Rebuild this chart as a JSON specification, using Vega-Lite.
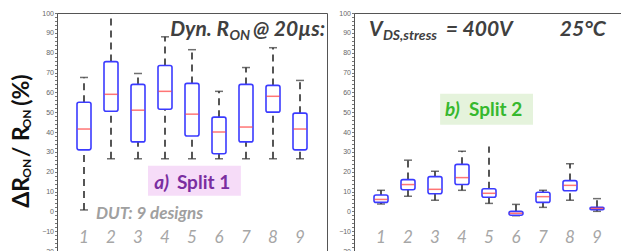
{
"$schema": "https://vega.github.io/schema/vega-lite/v6.json",
"padding": {"left": 10, "top": 8, "right": 0, "bottom": 0},
"spacing": 10,
"background": "white",
"config": {"view": {"stroke": "#555", "strokeWidth": 1}, "text": {"font": "Lato"}, "scale": {"continuousPadding": 0},
 "axisY": {"labelOverlap": false, "tickSize": 2.5, "labelFontSize": 7, "labelColor": "#666", "tickColor": "#777", "domainColor": "#555", "grid": false, "labelPadding": 1, "labelFont": "Liberation Sans"}},
"datasets": {
"s1": [
{"dut":1,"lo":0.7,"q1":31,"med":41.5,"q3":55,"hi":67.5},
{"dut":2,"lo":26.5,"q1":50.5,"med":59,"q3":75.5,"hi":103},
{"dut":3,"lo":26.5,"q1":35,"med":51,"q3":64,"hi":69.5},
{"dut":4,"lo":26.5,"q1":51.5,"med":60.5,"q3":73.5,"hi":88},
{"dut":5,"lo":26.5,"q1":38,"med":49,"q3":64.5,"hi":81.5},
{"dut":6,"lo":26.5,"q1":29,"med":40,"q3":47.5,"hi":60.5},
{"dut":7,"lo":26.5,"q1":35,"med":42.5,"q3":64,"hi":72.5},
{"dut":8,"lo":26.5,"q1":50,"med":58,"q3":63.5,"hi":82.5},
{"dut":9,"lo":26.5,"q1":31,"med":41.5,"q3":49.5,"hi":66}
],
"s2": [
{"dut":1,"lo":3.7,"q1":4.5,"med":6,"q3":8.2,"hi":10.6},
{"dut":2,"lo":7.6,"q1":10.9,"med":13.5,"q3":16,"hi":25.8},
{"dut":3,"lo":5.6,"q1":8.9,"med":11.1,"q3":17.5,"hi":20.2},
{"dut":4,"lo":10.6,"q1":13.5,"med":17,"q3":23.7,"hi":30.3},
{"dut":5,"lo":4,"q1":7.1,"med":9.1,"q3":11.4,"hi":32.7},
{"dut":6,"lo":-2.2,"q1":-2,"med":-1,"q3":0,"hi":3.5},
{"dut":7,"lo":2,"q1":4.5,"med":7.4,"q3":9.6,"hi":10.6},
{"dut":8,"lo":5.6,"q1":10.4,"med":13.1,"q3":15.5,"hi":24},
{"dut":9,"lo":0,"q1":0.8,"med":1.5,"q3":2,"hi":6.4}
]
},
"hconcat": [
{
"width": 270, "height": 238,
"data": {"name": "s1"},
"layer": [
{"data": {"values": [{}]}, "mark": {"type": "rect", "color": "#f6dcf8"},
 "encoding": {"x": {"datum": 3.37, "type": "quantitative", "scale": {"domain": [0, 10], "padding": 0, "nice": false, "zero": false}, "axis": null}, "x2": {"datum": 6.81},
  "y": {"datum": 7.8, "type": "quantitative", "scale": {"domain": [-20, 100], "padding": 0, "nice": false}, "axis": {"tickCount": 60, "title": null, "labelExpr": "datum.value % 10 === 0 ? datum.label : ''"}}, "y2": {"datum": 23}}},
{"mark": {"type": "rule", "color": "#444", "strokeWidth": 1.8, "strokeDash": [7, 5], "clip": true},
 "encoding": {"x": {"field": "dut", "type": "quantitative", "axis": null}, "y": {"field": "q3", "type": "quantitative", "axis": {"tickCount": 60, "title": null, "labelExpr": "datum.value % 10 === 0 ? datum.label : ''"}}, "y2": {"field": "hi"}}},
{"mark": {"type": "rule", "color": "#444", "strokeWidth": 1.8, "strokeDash": [7, 5]},
 "encoding": {"x": {"field": "dut", "type": "quantitative", "axis": null}, "y": {"field": "lo", "type": "quantitative", "axis": {"tickCount": 60, "title": null, "labelExpr": "datum.value % 10 === 0 ? datum.label : ''"}}, "y2": {"field": "q1"}}},
{"mark": {"type": "tick", "orient": "horizontal", "color": "#333", "size": 8, "thickness": 1.5, "clip": true},
 "encoding": {"x": {"field": "dut", "type": "quantitative", "axis": null}, "y": {"field": "hi", "type": "quantitative", "axis": {"tickCount": 60, "title": null, "labelExpr": "datum.value % 10 === 0 ? datum.label : ''"}}}},
{"mark": {"type": "tick", "orient": "horizontal", "color": "#333", "size": 8, "thickness": 1.5},
 "encoding": {"x": {"field": "dut", "type": "quantitative", "axis": null}, "y": {"field": "lo", "type": "quantitative", "axis": {"tickCount": 60, "title": null, "labelExpr": "datum.value % 10 === 0 ? datum.label : ''"}}}},
{"mark": {"type": "bar", "size": 14, "fill": "white", "stroke": "#3b3bff", "strokeWidth": 1.6, "cornerRadius": 2},
 "encoding": {"x": {"field": "dut", "type": "quantitative", "axis": null}, "y": {"field": "q1", "type": "quantitative", "axis": {"tickCount": 60, "title": null, "labelExpr": "datum.value % 10 === 0 ? datum.label : ''"}}, "y2": {"field": "q3"}}},
{"mark": {"type": "tick", "orient": "horizontal", "color": "#ff3b3b", "size": 13, "thickness": 1.5},
 "encoding": {"x": {"field": "dut", "type": "quantitative", "axis": null}, "y": {"field": "med", "type": "quantitative", "axis": {"tickCount": 60, "title": null, "labelExpr": "datum.value % 10 === 0 ? datum.label : ''"}}}},
{"mark": {"type": "text", "fontSize": 17, "fontStyle": "italic", "color": "#a6a6a6", "baseline": "middle"},
 "encoding": {"x": {"field": "dut", "type": "quantitative", "axis": null}, "y": {"datum": -13.5, "type": "quantitative", "axis": {"tickCount": 60, "title": null, "labelExpr": "datum.value % 10 === 0 ? datum.label : ''"}}, "text": {"field": "dut"}}},
{"data": {"values": [{}]}, "mark": {"type": "text", "text": "ΔR", "angle": 270, "align": "left", "baseline": "alphabetic", "fontSize": 23, "fontWeight": "bold", "color": "#111"},
 "encoding": {"x": {"datum": -1.04, "type": "quantitative", "axis": null}, "y": {"datum": 1.77, "type": "quantitative", "axis": {"tickCount": 60, "title": null, "labelExpr": "datum.value % 10 === 0 ? datum.label : ''"}}}},
{"data": {"values": [{}]}, "mark": {"type": "text", "text": "ON", "angle": 270, "align": "left", "baseline": "alphabetic", "fontSize": 12, "fontWeight": "bold", "color": "#111"},
 "encoding": {"x": {"datum": -0.96, "type": "quantitative", "axis": null}, "y": {"datum": 16.9, "type": "quantitative", "axis": {"tickCount": 60, "title": null, "labelExpr": "datum.value % 10 === 0 ? datum.label : ''"}}}},
{"data": {"values": [{}]}, "mark": {"type": "text", "text": "/ R", "angle": 270, "align": "left", "baseline": "alphabetic", "fontSize": 23, "fontWeight": "bold", "color": "#111"},
 "encoding": {"x": {"datum": -1.04, "type": "quantitative", "axis": null}, "y": {"datum": 27.3, "type": "quantitative", "axis": {"tickCount": 60, "title": null, "labelExpr": "datum.value % 10 === 0 ? datum.label : ''"}}}},
{"data": {"values": [{}]}, "mark": {"type": "text", "text": "ON", "angle": 270, "align": "left", "baseline": "alphabetic", "fontSize": 12, "fontWeight": "bold", "color": "#111"},
 "encoding": {"x": {"datum": -0.96, "type": "quantitative", "axis": null}, "y": {"datum": 41.8, "type": "quantitative", "axis": {"tickCount": 60, "title": null, "labelExpr": "datum.value % 10 === 0 ? datum.label : ''"}}}},
{"data": {"values": [{}]}, "mark": {"type": "text", "text": "(%)", "angle": 270, "align": "left", "baseline": "alphabetic", "fontSize": 23, "fontWeight": "bold", "color": "#111"},
 "encoding": {"x": {"datum": -1.04, "type": "quantitative", "axis": null}, "y": {"datum": 53.2, "type": "quantitative", "axis": {"tickCount": 60, "title": null, "labelExpr": "datum.value % 10 === 0 ? datum.label : ''"}}}},
{"data": {"values": [{}]}, "mark": {"type": "text", "text": "Dyn. R", "align": "right", "baseline": "alphabetic", "fontSize": 21, "fontWeight": "bold", "fontStyle": "italic", "color": "#404040"},
 "encoding": {"x": {"datum": 6.37, "type": "quantitative", "axis": null}, "y": {"datum": 88.5, "type": "quantitative", "axis": {"tickCount": 60, "title": null, "labelExpr": "datum.value % 10 === 0 ? datum.label : ''"}}}},
{"data": {"values": [{}]}, "mark": {"type": "text", "text": "ON", "align": "right", "baseline": "alphabetic", "fontSize": 14, "fontWeight": "bold", "fontStyle": "italic", "color": "#404040"},
 "encoding": {"x": {"datum": 7.15, "type": "quantitative", "axis": null}, "y": {"datum": 86.5, "type": "quantitative", "axis": {"tickCount": 60, "title": null, "labelExpr": "datum.value % 10 === 0 ? datum.label : ''"}}}},
{"data": {"values": [{}]}, "mark": {"type": "text", "text": "@ 20µs:", "align": "right", "baseline": "alphabetic", "fontSize": 21, "fontWeight": "bold", "fontStyle": "italic", "color": "#404040"},
 "encoding": {"x": {"datum": 9.93, "type": "quantitative", "axis": null}, "y": {"datum": 88.5, "type": "quantitative", "axis": {"tickCount": 60, "title": null, "labelExpr": "datum.value % 10 === 0 ? datum.label : ''"}}}},
{"data": {"values": [{}]}, "mark": {"type": "text", "text": "a)", "align": "left", "baseline": "alphabetic", "fontSize": 19, "fontWeight": "bold", "fontStyle": "italic", "color": "#7a2ea0"},
 "encoding": {"x": {"datum": 3.6, "type": "quantitative", "axis": null}, "y": {"datum": 11.4, "type": "quantitative", "axis": {"tickCount": 60, "title": null, "labelExpr": "datum.value % 10 === 0 ? datum.label : ''"}}}},
{"data": {"values": [{}]}, "mark": {"type": "text", "text": "Split 1", "align": "left", "baseline": "alphabetic", "fontSize": 19, "fontWeight": "bold", "color": "#7a2ea0"},
 "encoding": {"x": {"datum": 4.44, "type": "quantitative", "axis": null}, "y": {"datum": 11.4, "type": "quantitative", "axis": {"tickCount": 60, "title": null, "labelExpr": "datum.value % 10 === 0 ? datum.label : ''"}}}},
{"data": {"values": [{}]}, "mark": {"type": "text", "text": "DUT: 9 designs", "align": "left", "baseline": "alphabetic", "fontSize": 17, "fontWeight": "bold", "fontStyle": "italic", "color": "#a0a0a0"},
 "encoding": {"x": {"datum": 1.44, "type": "quantitative", "axis": null}, "y": {"datum": -3.8, "type": "quantitative", "axis": {"tickCount": 60, "title": null, "labelExpr": "datum.value % 10 === 0 ? datum.label : ''"}}}}
]
},
{
"width": 270, "height": 238,
"data": {"name": "s2"},
"layer": [
{"data": {"values": [{}]}, "mark": {"type": "rect", "color": "#e5f3dc"},
 "encoding": {"x": {"datum": 3.19, "type": "quantitative", "scale": {"domain": [0, 10], "padding": 0, "nice": false, "zero": false}, "axis": null}, "x2": {"datum": 6.63},
  "y": {"datum": 43.6, "type": "quantitative", "scale": {"domain": [-20, 100], "padding": 0, "nice": false}, "axis": {"tickCount": 60, "title": null, "labelExpr": "datum.value % 10 === 0 ? datum.label : ''"}}, "y2": {"datum": 59.3}}},
{"mark": {"type": "rule", "color": "#444", "strokeWidth": 1.8, "strokeDash": [7, 5], "clip": true},
 "encoding": {"x": {"field": "dut", "type": "quantitative", "axis": null}, "y": {"field": "q3", "type": "quantitative", "axis": {"tickCount": 60, "title": null, "labelExpr": "datum.value % 10 === 0 ? datum.label : ''"}}, "y2": {"field": "hi"}}},
{"mark": {"type": "rule", "color": "#444", "strokeWidth": 1.8, "strokeDash": [7, 5]},
 "encoding": {"x": {"field": "dut", "type": "quantitative", "axis": null}, "y": {"field": "lo", "type": "quantitative", "axis": {"tickCount": 60, "title": null, "labelExpr": "datum.value % 10 === 0 ? datum.label : ''"}}, "y2": {"field": "q1"}}},
{"transform": [{"filter": "datum.dut != 5"}], "mark": {"type": "tick", "orient": "horizontal", "color": "#333", "size": 8, "thickness": 1.5},
 "encoding": {"x": {"field": "dut", "type": "quantitative", "axis": null}, "y": {"field": "hi", "type": "quantitative", "axis": {"tickCount": 60, "title": null, "labelExpr": "datum.value % 10 === 0 ? datum.label : ''"}}}},
{"mark": {"type": "tick", "orient": "horizontal", "color": "#333", "size": 8, "thickness": 1.5},
 "encoding": {"x": {"field": "dut", "type": "quantitative", "axis": null}, "y": {"field": "lo", "type": "quantitative", "axis": {"tickCount": 60, "title": null, "labelExpr": "datum.value % 10 === 0 ? datum.label : ''"}}}},
{"mark": {"type": "bar", "size": 14, "fill": "white", "stroke": "#3b3bff", "strokeWidth": 1.6, "cornerRadius": 2},
 "encoding": {"x": {"field": "dut", "type": "quantitative", "axis": null}, "y": {"field": "q1", "type": "quantitative", "axis": {"tickCount": 60, "title": null, "labelExpr": "datum.value % 10 === 0 ? datum.label : ''"}}, "y2": {"field": "q3"}}},
{"mark": {"type": "tick", "orient": "horizontal", "color": "#ff3b3b", "size": 13, "thickness": 1.5},
 "encoding": {"x": {"field": "dut", "type": "quantitative", "axis": null}, "y": {"field": "med", "type": "quantitative", "axis": {"tickCount": 60, "title": null, "labelExpr": "datum.value % 10 === 0 ? datum.label : ''"}}}},
{"mark": {"type": "text", "fontSize": 17, "fontStyle": "italic", "color": "#a6a6a6", "baseline": "middle"},
 "encoding": {"x": {"field": "dut", "type": "quantitative", "axis": null}, "y": {"datum": -13.5, "type": "quantitative", "axis": {"tickCount": 60, "title": null, "labelExpr": "datum.value % 10 === 0 ? datum.label : ''"}}, "text": {"field": "dut"}}},
{"data": {"values": [{}]}, "mark": {"type": "text", "text": "V", "align": "left", "baseline": "alphabetic", "fontSize": 21, "fontWeight": "bold", "fontStyle": "italic", "color": "#404040"},
 "encoding": {"x": {"datum": 0.56, "type": "quantitative", "axis": null}, "y": {"datum": 88.5, "type": "quantitative", "axis": {"tickCount": 60, "title": null, "labelExpr": "datum.value % 10 === 0 ? datum.label : ''"}}}},
{"data": {"values": [{}]}, "mark": {"type": "text", "text": "DS,stress", "align": "left", "baseline": "alphabetic", "fontSize": 14, "fontWeight": "bold", "fontStyle": "italic", "color": "#404040"},
 "encoding": {"x": {"datum": 1.07, "type": "quantitative", "axis": null}, "y": {"datum": 86.5, "type": "quantitative", "axis": {"tickCount": 60, "title": null, "labelExpr": "datum.value % 10 === 0 ? datum.label : ''"}}}},
{"data": {"values": [{}]}, "mark": {"type": "text", "text": "= 400V", "align": "left", "baseline": "alphabetic", "fontSize": 21, "fontWeight": "bold", "fontStyle": "italic", "color": "#404040"},
 "encoding": {"x": {"datum": 3.4, "type": "quantitative", "axis": null}, "y": {"datum": 88.5, "type": "quantitative", "axis": {"tickCount": 60, "title": null, "labelExpr": "datum.value % 10 === 0 ? datum.label : ''"}}}},
{"data": {"values": [{}]}, "mark": {"type": "text", "text": "25°C", "align": "right", "baseline": "alphabetic", "fontSize": 21, "fontWeight": "bold", "fontStyle": "italic", "color": "#404040"},
 "encoding": {"x": {"datum": 9.33, "type": "quantitative", "axis": null}, "y": {"datum": 88.5, "type": "quantitative", "axis": {"tickCount": 60, "title": null, "labelExpr": "datum.value % 10 === 0 ? datum.label : ''"}}}},
{"data": {"values": [{}]}, "mark": {"type": "text", "text": "b)", "align": "left", "baseline": "alphabetic", "fontSize": 19, "fontWeight": "bold", "fontStyle": "italic", "color": "#36b82e"},
 "encoding": {"x": {"datum": 3.37, "type": "quantitative", "axis": null}, "y": {"datum": 48.2, "type": "quantitative", "axis": {"tickCount": 60, "title": null, "labelExpr": "datum.value % 10 === 0 ? datum.label : ''"}}}},
{"data": {"values": [{}]}, "mark": {"type": "text", "text": "Split 2", "align": "left", "baseline": "alphabetic", "fontSize": 19, "fontWeight": "bold", "color": "#36b82e"},
 "encoding": {"x": {"datum": 4.26, "type": "quantitative", "axis": null}, "y": {"datum": 48.2, "type": "quantitative", "axis": {"tickCount": 60, "title": null, "labelExpr": "datum.value % 10 === 0 ? datum.label : ''"}}}}
]
}
]
}
